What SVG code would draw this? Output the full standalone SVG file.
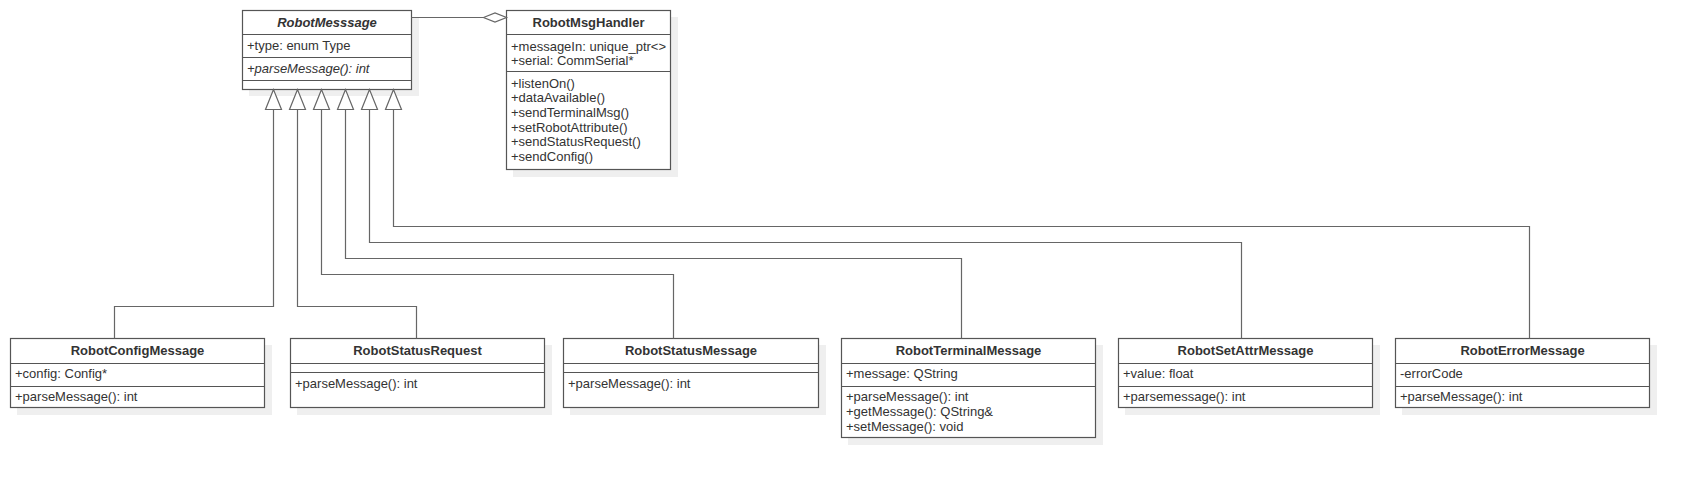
<svg xmlns="http://www.w3.org/2000/svg" width="1689" height="478" viewBox="0 0 1689 478">
<style>
text{font-family:"Liberation Sans",Arial,sans-serif;font-size:13px;fill:#333333}
.t{font-weight:bold;text-anchor:middle}
.i{font-style:italic}
.box{fill:#ffffff;stroke:#555555;stroke-width:1.2}
.sh{fill:#efefef}
.div{stroke:#555555;stroke-width:1.2}
.c{fill:none;stroke:#666666;stroke-width:1.2}
.head{fill:#ffffff;stroke:#666666;stroke-width:1.2}
</style>
<rect width="1689" height="478" fill="#ffffff"/>
<g id="RobotMesssage">
<rect class="sh" x="249" y="17" width="170" height="79"/>
<rect class="box" x="242.5" y="10.5" width="169" height="79"/>
<line class="div" x1="242.5" y1="34.5" x2="411.5" y2="34.5"/>
<line class="div" x1="242.5" y1="57.5" x2="411.5" y2="57.5"/>
<line class="div" x1="242.5" y1="80.5" x2="411.5" y2="80.5"/>
<text class="t i" x="327" y="27">RobotMesssage</text>
<text x="247" y="50">+type: enum Type</text>
<text class="i" x="247" y="73">+parseMessage(): int</text>
</g>
<g id="RobotMsgHandler">
<rect class="sh" x="513" y="17" width="165" height="160"/>
<rect class="box" x="506.5" y="10.5" width="164" height="159"/>
<line class="div" x1="506.5" y1="34.5" x2="670.5" y2="34.5"/>
<line class="div" x1="506.5" y1="71.5" x2="670.5" y2="71.5"/>
<text class="t" x="588.5" y="27">RobotMsgHandler</text>
<text x="511" y="51">+messageIn: unique_ptr&lt;&gt;</text>
<text x="511" y="65">+serial: CommSerial*</text>
<text x="511" y="87.5">+listenOn()</text>
<text x="511" y="102.2">+dataAvailable()</text>
<text x="511" y="117">+sendTerminalMsg()</text>
<text x="511" y="131.7">+setRobotAttribute()</text>
<text x="511" y="146.4">+sendStatusRequest()</text>
<text x="511" y="161">+sendConfig()</text>
</g>
<g id="RobotConfigMessage">
<rect class="sh" x="17" y="345" width="255" height="70"/>
<rect class="box" x="10.5" y="338.5" width="254" height="69"/>
<line class="div" x1="10.5" y1="363.5" x2="264.5" y2="363.5"/>
<line class="div" x1="10.5" y1="386.5" x2="264.5" y2="386.5"/>
<text class="t" x="137.5" y="355">RobotConfigMessage</text>
<text x="15" y="378">+config: Config*</text>
<text x="15" y="401">+parseMessage(): int</text>
</g>
<g id="RobotStatusRequest">
<rect class="sh" x="297" y="345" width="255" height="70"/>
<rect class="box" x="290.5" y="338.5" width="254" height="69"/>
<line class="div" x1="290.5" y1="363.5" x2="544.5" y2="363.5"/>
<line class="div" x1="290.5" y1="372.5" x2="544.5" y2="372.5"/>
<text class="t" x="417.5" y="355">RobotStatusRequest</text>
<text x="295" y="388">+parseMessage(): int</text>
</g>
<g id="RobotStatusMessage">
<rect class="sh" x="570" y="345" width="256" height="70"/>
<rect class="box" x="563.5" y="338.5" width="255" height="69"/>
<line class="div" x1="563.5" y1="363.5" x2="818.5" y2="363.5"/>
<line class="div" x1="563.5" y1="372.5" x2="818.5" y2="372.5"/>
<text class="t" x="691" y="355">RobotStatusMessage</text>
<text x="568" y="388">+parseMessage(): int</text>
</g>
<g id="RobotTerminalMessage">
<rect class="sh" x="848" y="345" width="255" height="100"/>
<rect class="box" x="841.5" y="338.5" width="254" height="99"/>
<line class="div" x1="841.5" y1="363.5" x2="1095.5" y2="363.5"/>
<line class="div" x1="841.5" y1="386.5" x2="1095.5" y2="386.5"/>
<text class="t" x="968.5" y="355">RobotTerminalMessage</text>
<text x="846" y="378">+message: QString</text>
<text x="846" y="401">+parseMessage(): int</text>
<text x="846" y="416">+getMessage(): QString&amp;</text>
<text x="846" y="431">+setMessage(): void</text>
</g>
<g id="RobotSetAttrMessage">
<rect class="sh" x="1125" y="345" width="255" height="70"/>
<rect class="box" x="1118.5" y="338.5" width="254" height="69"/>
<line class="div" x1="1118.5" y1="363.5" x2="1372.5" y2="363.5"/>
<line class="div" x1="1118.5" y1="386.5" x2="1372.5" y2="386.5"/>
<text class="t" x="1245.5" y="355">RobotSetAttrMessage</text>
<text x="1123" y="378">+value: float</text>
<text x="1123" y="401">+parsemessage(): int</text>
</g>
<g id="RobotErrorMessage">
<rect class="sh" x="1402" y="345" width="255" height="70"/>
<rect class="box" x="1395.5" y="338.5" width="254" height="69"/>
<line class="div" x1="1395.5" y1="363.5" x2="1649.5" y2="363.5"/>
<line class="div" x1="1395.5" y1="386.5" x2="1649.5" y2="386.5"/>
<text class="t" x="1522.5" y="355">RobotErrorMessage</text>
<text x="1400" y="378">-errorCode</text>
<text x="1400" y="401">+parseMessage(): int</text>
</g>
<g id="connectors">
<polyline class="c" points="411.5,17.5 483.5,17.5"/>
<polygon class="head" points="483.5,17.5 495,13 506.5,17.5 495,22"/>
<polyline class="c" points="273.5,109.5 273.5,306.5 114.5,306.5 114.5,338.5"/>
<polyline class="c" points="297.5,109.5 297.5,306.5 416.5,306.5 416.5,338.5"/>
<polyline class="c" points="321.5,109.5 321.5,274.5 673.5,274.5 673.5,338.5"/>
<polyline class="c" points="345.5,109.5 345.5,258.5 961.5,258.5 961.5,338.5"/>
<polyline class="c" points="369.5,109.5 369.5,242.5 1241.5,242.5 1241.5,338.5"/>
<polyline class="c" points="393.5,109.5 393.5,226.5 1529.5,226.5 1529.5,338.5"/>
<polygon class="head" points="273.5,89.5 265.5,109.5 281.5,109.5"/>
<polygon class="head" points="297.5,89.5 289.5,109.5 305.5,109.5"/>
<polygon class="head" points="321.5,89.5 313.5,109.5 329.5,109.5"/>
<polygon class="head" points="345.5,89.5 337.5,109.5 353.5,109.5"/>
<polygon class="head" points="369.5,89.5 361.5,109.5 377.5,109.5"/>
<polygon class="head" points="393.5,89.5 385.5,109.5 401.5,109.5"/>
</g>
</svg>
